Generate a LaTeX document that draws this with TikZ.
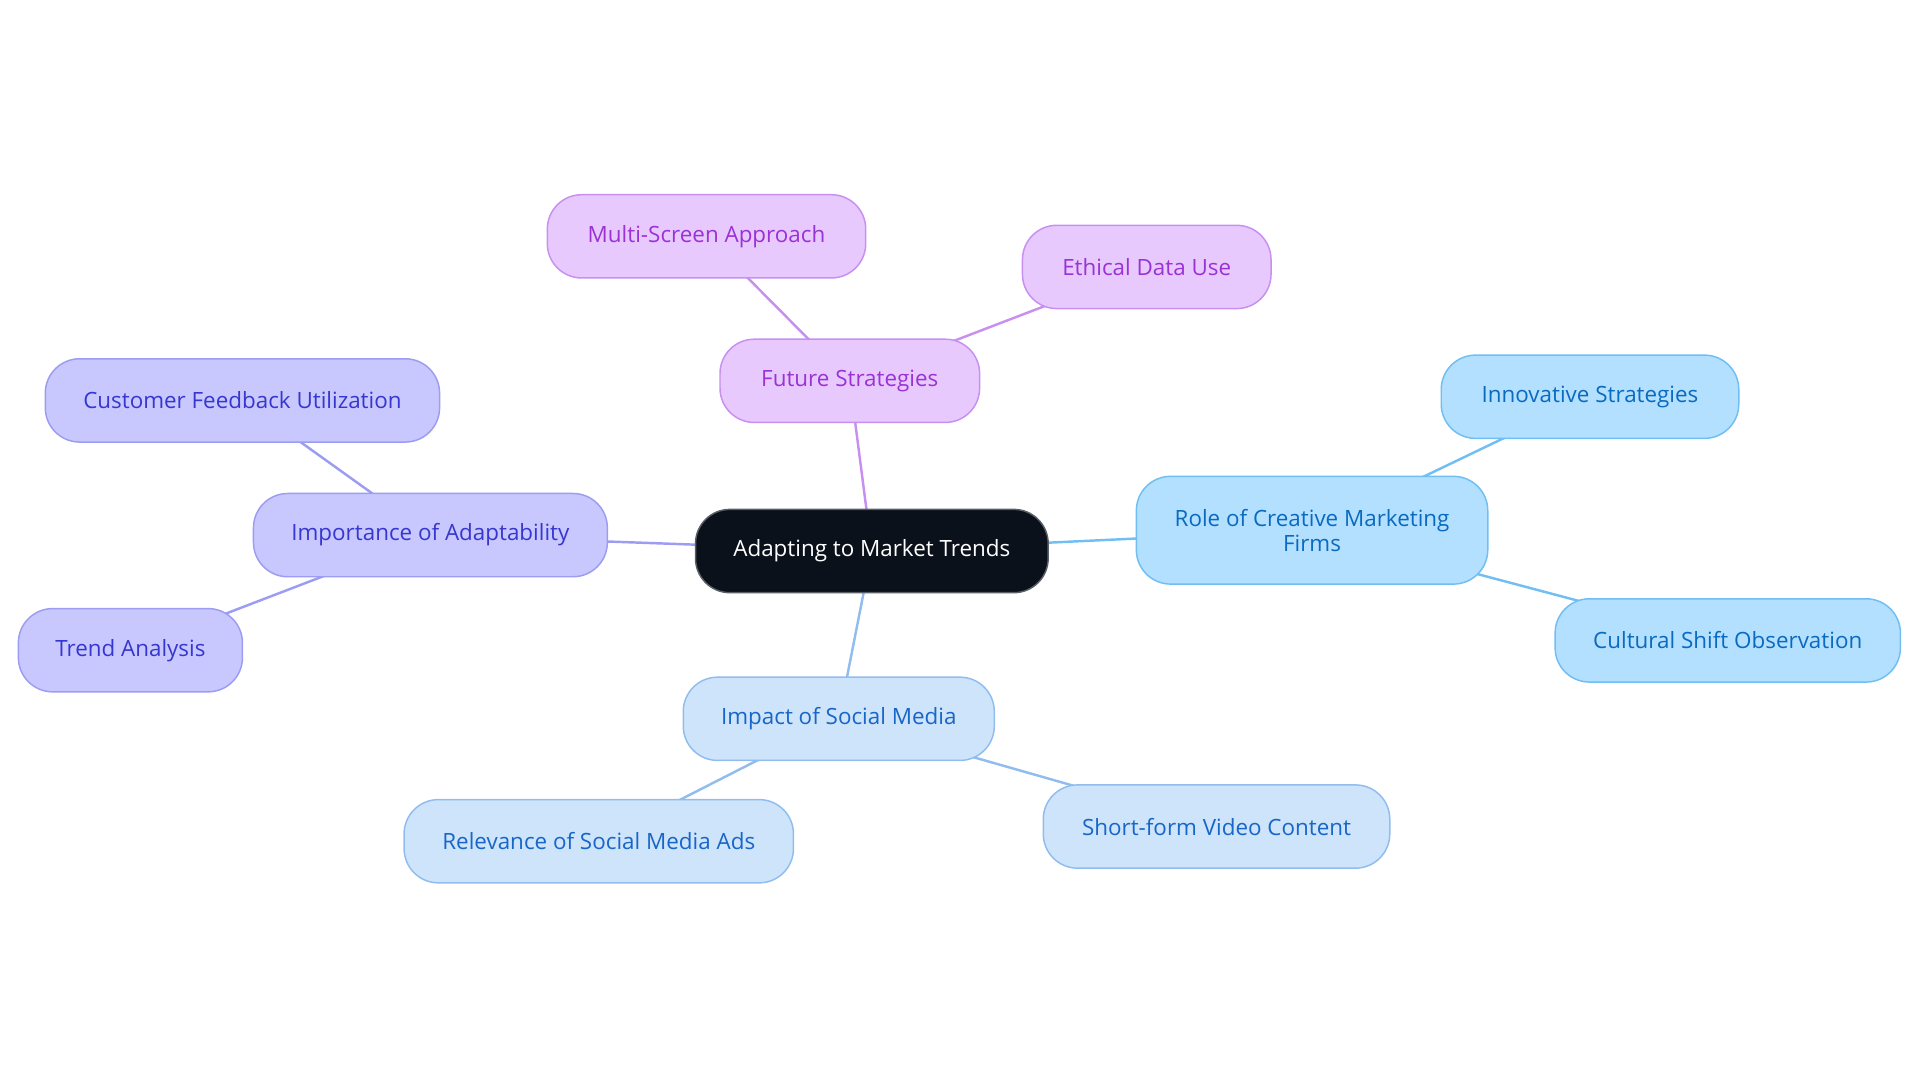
\documentclass[tikz,border=0pt]{standalone}
\usepackage{fontspec}
\setmainfont{Open Sans}
\usetikzlibrary{backgrounds}
\definecolor{pfill}{HTML}{E8C9FE}\definecolor{pdraw}{HTML}{C790F0}\definecolor{ptext}{HTML}{9A32D6}
\definecolor{ifill}{HTML}{C8C8FE}\definecolor{idraw}{HTML}{9C9CF2}\definecolor{itext}{HTML}{3636D0}
\definecolor{lfill}{HTML}{B3E0FF}\definecolor{ldraw}{HTML}{70BEF2}\definecolor{ltext}{HTML}{0A6AC0}
\definecolor{bfill}{HTML}{CDE4FB}\definecolor{bdraw}{HTML}{90BDEE}\definecolor{btext}{HTML}{1766C8}
\definecolor{cfill}{HTML}{0B111B}\definecolor{cdraw}{HTML}{5A5E66}
\begin{document}
\begin{tikzpicture}[x=1pt,y=-1pt,
  box/.style={rounded corners=28pt, line width=1.2pt, minimum height=68pt, inner sep=0pt, align=center,
    font=\fontsize{18.3}{20.5}\selectfont},
  pbox/.style={box, fill=pfill, draw=pdraw, text=ptext},
  ibox/.style={box, fill=ifill, draw=idraw, text=itext},
  lbox/.style={box, fill=lfill, draw=ldraw, text=ltext},
  bbox/.style={box, fill=bfill, draw=bdraw, text=btext},
  cbox/.style={box, fill=cfill, draw=cdraw, text=white},
  pline/.style={draw=pdraw, line width=2pt},
  iline/.style={draw=idraw, line width=2pt},
  lline/.style={draw=ldraw, line width=2pt},
  bline/.style={draw=bdraw, line width=2pt}]
\useasboundingbox (0,0) rectangle (1568,884.4);
% nodes
\node[cbox, minimum width=288pt] (c) at (712,450) {Adapting to Market Trends};
\node[pbox, minimum width=212pt] (fs) at (694,311) {Future Strategies};
\node[pbox, minimum width=260pt] (ms) at (577,193) {Multi-Screen Approach};
\node[pbox, minimum width=203pt] (ed) at (936.5,218) {Ethical Data Use};
\node[ibox, minimum width=289pt] (ia) at (351.5,437) {Importance of Adaptability};
\node[ibox, minimum width=322pt] (cf) at (198,327) {Customer Feedback Utilization};
\node[ibox, minimum width=183pt] (ta) at (106.5,531) {Trend Analysis};
\node[lbox, minimum width=287pt, minimum height=88pt] (rc) at (1071.5,433) {Role of Creative Marketing\\Firms};
\node[lbox, minimum width=243pt] (is) at (1298.5,324) {Innovative Strategies};
\node[lbox, minimum width=282pt] (cs) at (1411,523) {Cultural Shift Observation};
\node[bbox, minimum width=254pt] (im) at (685,587) {Impact of Social Media};
\node[bbox, minimum width=318pt] (ra) at (489,687) {Relevance of Social Media Ads};
\node[bbox, minimum width=283pt] (sv) at (993.5,675) {Short-form Video Content};
% edges
\begin{scope}[on background layer]
\path[pline] (c.center) -- (fs.center);
\path[pline] (fs.center) -- (ms.center);
\path[pline] (fs.center) -- (ed.center);
\path[iline] (c.center) -- (ia.center);
\path[iline] (ia.center) -- (cf.center);
\path[iline] (ia.center) -- (ta.center);
\path[lline] (c.center) -- (rc.center);
\path[lline] (rc.center) -- (is.center);
\path[lline] (rc.center) -- (cs.center);
\path[bline] (c.center) -- (im.center);
\path[bline] (im.center) -- (ra.center);
\path[bline] (im.center) -- (sv.center);
\end{scope}
\end{tikzpicture}
\end{document}
